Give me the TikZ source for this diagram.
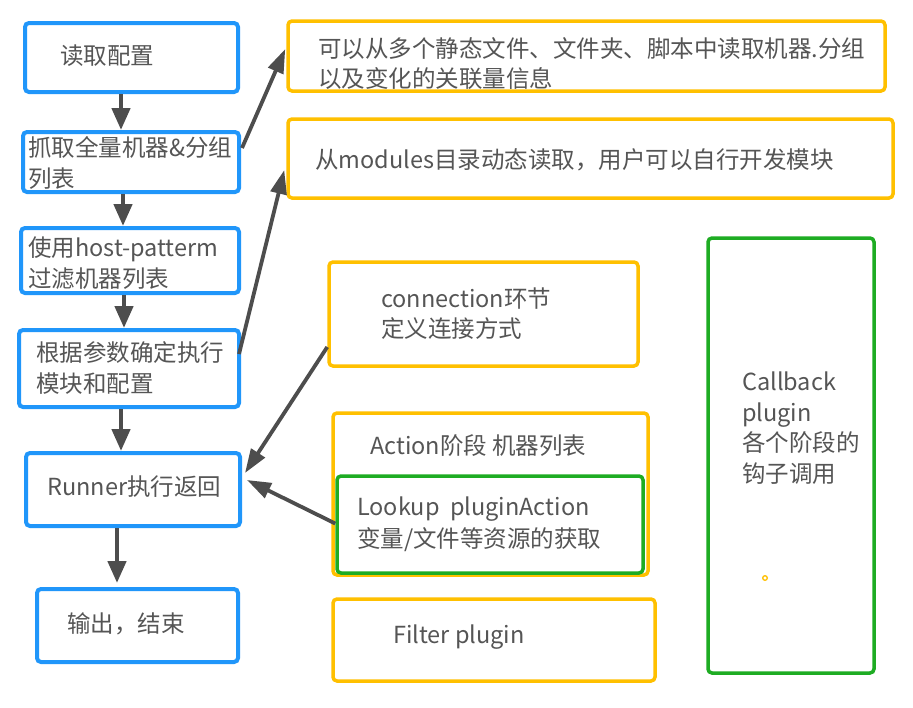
\documentclass[tikz,border=0pt]{standalone}
\usepackage{fontspec}
\setmainfont{Noto Sans CJK SC}
\usetikzlibrary{arrows.meta}
\definecolor{bblue}{RGB}{32,150,250}
\definecolor{byellow}{RGB}{255,192,0}
\definecolor{bgreen}{RGB}{30,172,35}
\definecolor{agray}{RGB}{77,77,77}
\definecolor{tgray}{RGB}{85,85,85}
\begin{document}
\begin{tikzpicture}[x=1pt,y=-1pt,
  box/.style={draw, rounded corners=4pt, inner sep=0pt, line width=3.5pt},
  bluebox/.style={box, draw=bblue, line width=4pt},
  ybox/.style={box, draw=byellow},
  gbox/.style={box, draw=bgreen},
  txt/.style={anchor=west, inner sep=0pt, align=left, text=tgray, font=\fontsize{23.5}{30.5}\selectfont},
  flow/.style={draw=agray, line width=4.5pt, -{Triangle[length=22pt,width=18pt]}},
  taper/.style={draw=agray, line width=3.8pt, -{Triangle[length=24pt,width=16pt]}}
]
\useasboundingbox (0,0) rectangle (913,707);
\fill[white] (0,0) rectangle (913,707);

% left column (blue)
\node[bluebox, minimum width=213pt, minimum height=69pt] (b1) at (131.5,57.5) {};
\node[bluebox, minimum width=216pt, minimum height=60pt] (b2) at (131,162) {};
\node[bluebox, minimum width=218pt, minimum height=65pt] (b3) at (130,260.5) {};
\node[bluebox, minimum width=220pt, minimum height=77pt] (b4) at (129,368.5) {};
\node[bluebox, minimum width=214pt, minimum height=73pt] (b5) at (133,489.5) {};
\node[bluebox, minimum width=201pt, minimum height=73pt] (b6) at (137.5,625.5) {};

\node[txt] (t1) at (60,56) {读取配置};
\node[txt] (t2) at (28,163) {抓取全量机器\&分组\\列表};
\node[txt] (t3) at (28,263) {使用host-patterm\\过滤机器列表};
\node[txt] (t4) at (36,368) {根据参数确定执行\\模块和配置};
\node[txt] (t5) at (47,487) {Runner执行返回};
\node[txt] (t6) at (67,624) {输出，结束};

% right boxes
\node[ybox, minimum width=597pt, minimum height=70pt] (ya) at (586.5,56) {};
\node[ybox, minimum width=605pt, minimum height=79pt] (yb) at (590.5,158.5) {};
\node[ybox, minimum width=309pt, minimum height=104pt] (yc) at (483.5,314) {};
\node[ybox, minimum width=315pt, minimum height=162pt] (yd) at (490.5,494) {};
\node[gbox, minimum width=306pt, minimum height=97pt] (ge) at (490,524.5) {};
\node[ybox, minimum width=322pt, minimum height=82pt] (yf) at (494,640) {};
\node[gbox, minimum width=166pt, minimum height=435pt] (gg) at (791,455.5) {};
\draw[byellow, line width=1.3pt, fill=white] (765,578) circle (2.3pt);

\node[txt] (ta) at (318,63.5) {可以从多个静态文件、文件夹、脚本中读取机器.分组\\以及变化的关联量信息};
\node[txt] (tb) at (315,160) {从modules目录动态读取，用户可以自行开发模块};
\node[txt] (tc) at (381,313.5) {connection环节\\定义连接方式};
\node[txt] (td) at (370,446) {Action阶段 机器列表};
\node[txt, font=\fontsize{23.5}{32}\selectfont] (te) at (357,524) {Lookup\ \ pluginAction\\变量/文件等资源的获取};
\node[txt] (tf) at (393,637) {Filter plugin};
\node[txt] (tg) at (742,428) {Callback\\plugin\\各个阶段的\\钩子调用};

% vertical flow arrows
\draw[flow] ([xshift=-10.5pt]b1.south) -- ([xshift=-10pt]b2.north);
\draw[flow] ([xshift=-8pt]b2.south) -- ([xshift=-7pt]b3.north);
\draw[flow] ([xshift=-6pt]b3.south) -- ([xshift=-5pt]b4.north);
\draw[flow] ([xshift=-8pt]b4.south) -- ([xshift=-12pt]b5.north);
\draw[flow, shorten >=4pt] ([xshift=-16pt]b5.south) -- ([xshift=-20.5pt]b6.north);

% diagonal arrows
\draw[taper] ([yshift=14pt,xshift=1pt]b2.east) -- ([yshift=7pt,xshift=-1pt]ya.west);
\draw[taper] ([yshift=14.5pt,xshift=-2pt]b4.east) -- ([yshift=-11.5pt,xshift=-2pt]yb.west);
\draw[taper] ([yshift=-33pt]yc.west) -- ([yshift=16.5pt,xshift=3pt]b5.east);
\draw[taper] ([yshift=1pt]ge.west) -- ([yshift=9.5pt,xshift=5pt]b5.east);
\end{tikzpicture}
\end{document}
